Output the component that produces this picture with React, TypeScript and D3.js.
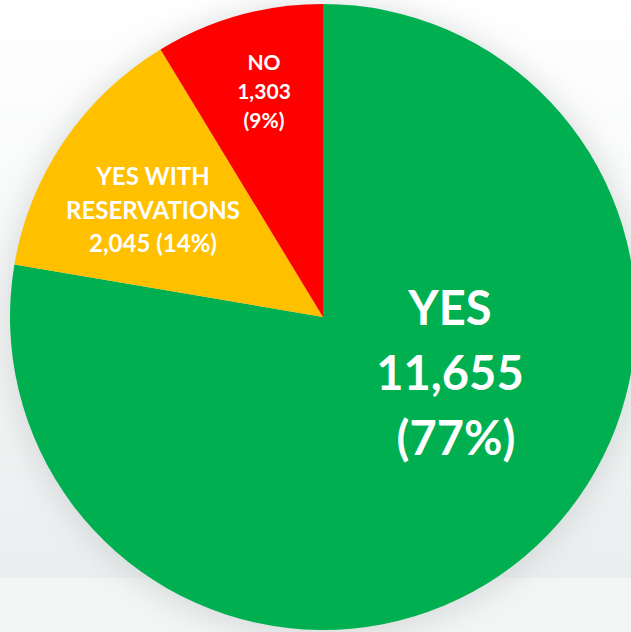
import React from "react";
import * as d3 from "d3";

const categories = ["YES", "YES WITH RESERVATIONS", "NO"];
const values = [11655, 2045, 1303];
const percents = ["77%", "14%", "9%"];
const colors = ["#00B050", "#FFC000", "#FF0000"];

const W = 631;
const H = 632;
const cx = 323;
const cy = 317;
const R = 313;

export default function App() {
  const pie = d3.pie<number>().sort(null).startAngle(0).endAngle(2 * Math.PI);
  const arcs = pie(values);
  const arcGen = d3.arc<d3.PieArcDatum<number>>().innerRadius(0).outerRadius(R);
  const fmt = d3.format(",");
  const font = "Lato, 'Open Sans', sans-serif";

  return (
    <svg
      width={W}
      height={H}
      style={{ position: "absolute", left: 0, top: 0 }}
      fontFamily={font}
      fontWeight={700}
    >
      <defs>
        <filter id="blur" x="-20%" y="-20%" width="140%" height="140%">
          <feGaussianBlur stdDeviation="14" />
        </filter>
        <linearGradient id="bg" x1="0" y1="0" x2="0" y2="1">
          <stop offset="0" stopColor="#ffffff" />
          <stop offset="0.55" stopColor="#f4f6f6" />
          <stop offset="1" stopColor="#e8ecec" />
        </linearGradient>
      </defs>
      <rect x={0} y={0} width={W} height={H} fill="url(#bg)" />
      <rect x={0} y={578} width={W} height={54} fill="#f4f6f6" />
      <circle cx={cx} cy={cy + 4} r={R + 6} fill="#c9cdcd" opacity={0.6} filter="url(#blur)" />
      <g transform={`translate(${cx},${cy})`}>
        {arcs.map((a, i) => (
          <path key={categories[i]} d={arcGen(a) || ""} fill={colors[i]} />
        ))}
      </g>
      <g fill="#ffffff" textAnchor="middle">
        <text x={450} y={325} fontSize={47}>{categories[0]}</text>
        <text x={450} y={390} fontSize={47}>{fmt(values[0])}</text>
        <text x={456} y={455} fontSize={47}>({percents[0]})</text>

        <text x={153} y={185} fontSize={24}>YES WITH</text>
        <text x={153} y={218.5} fontSize={24}>RESERVATIONS</text>
        <text x={153} y={252} fontSize={24}>{fmt(values[1])} ({percents[1]})</text>

        <text x={264} y={70} fontSize={21}>{categories[2]}</text>
        <text x={264} y={99} fontSize={21}>{fmt(values[2])}</text>
        <text x={264} y={128} fontSize={21}>({percents[2]})</text>
      </g>
    </svg>
  );
}
